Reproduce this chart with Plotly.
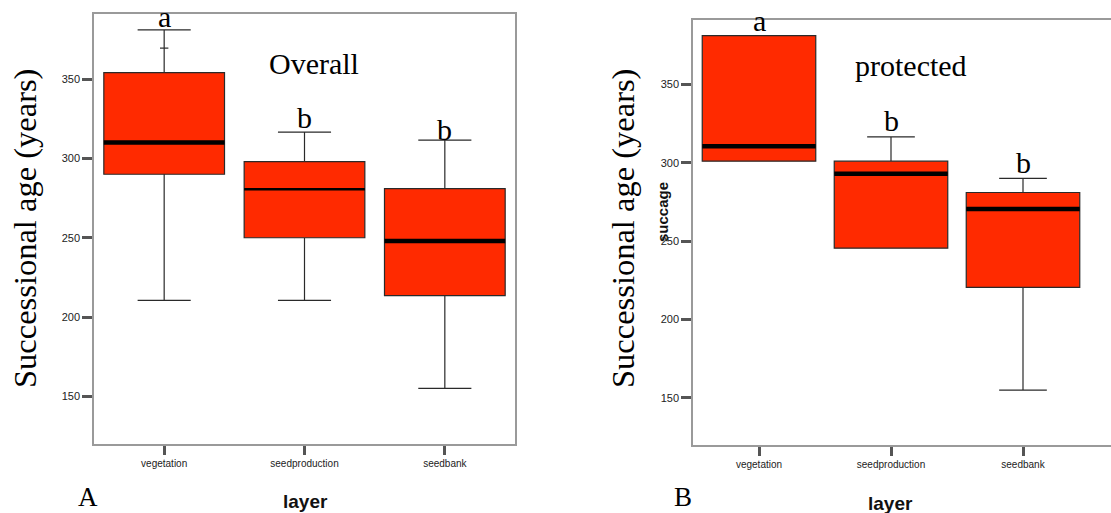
import plotly.graph_objects as go

# ---------------- data ----------------
categories = ["vegetation", "seedproduction", "seedbank"]

# Panel A: Overall
overall_q1 = [290, 250, 213.5]
overall_median = [310, 280.5, 248]
overall_q3 = [354, 298, 281]
overall_lower = [210.5, 210.5, 155]
overall_upper = [381, 316.5, 311.5]
overall_outlier_x = [0]
overall_outlier_y = [369.5]
overall_letters = ["a", "b", "b"]

# Panel B: protected
protected_q1 = [301, 245.5, 220.5]
protected_median = [310.5, 293, 270.5]
protected_q3 = [381, 301, 281]
protected_lower = [301, 245.5, 155]
protected_upper = [381, 316.5, 290]
protected_letters = ["a", "b", "b"]

y_ticks = [150, 200, 250, 300, 350]

# ---------------- style ----------------
FILL = "#FF2A00"
OUT = "#2a2a2a"
FRAME = "#9a9a9a"
TICKC = "#555555"
SERIF = "Liberation Serif, Times New Roman, serif"
SANS = "Liberation Sans, Arial, sans-serif"
BOXW = 0.86

W, H = 1111, 513


def px_x(p):
    return p / W


def px_y(p):
    return 1 - p / H


fig = go.Figure()

xpos = list(range(len(categories)))


def add_panel(xa, ya, q1, med, q3, lo, hi, whisk, med_widths):
    for i in xpos:
        fig.add_trace(go.Box(
            x=[i], q1=[q1[i]], median=[med[i]], q3=[q3[i]],
            lowerfence=[lo[i]], upperfence=[hi[i]],
            width=BOXW, whiskerwidth=whisk,
            fillcolor=FILL, line=dict(color=OUT, width=1.2),
            boxpoints=False, showlegend=False, hoverinfo="skip",
            xaxis=xa, yaxis=ya,
        ))
    for i in xpos:
        fig.add_trace(go.Scatter(
            x=[i - BOXW / 2, i + BOXW / 2], y=[med[i], med[i]],
            mode="lines", line=dict(color="black", width=med_widths[i]),
            showlegend=False, hoverinfo="skip", xaxis=xa, yaxis=ya,
        ))


add_panel("x", "y", overall_q1, overall_median, overall_q3,
          overall_lower, overall_upper, 0.44, [4.5, 2.5, 4.5])
fig.add_trace(go.Scatter(
    x=overall_outlier_x, y=overall_outlier_y, mode="markers",
    marker=dict(symbol="line-ew-open", size=6, color=OUT, line=dict(width=1.2, color=OUT)),
    showlegend=False, hoverinfo="skip", xaxis="x", yaxis="y",
))
add_panel("x2", "y2", protected_q1, protected_median, protected_q3,
          protected_lower, protected_upper, 0.42, [4.5, 4.5, 4.5])

common_x = dict(
    tickmode="array", tickvals=xpos, ticktext=categories,
    showline=True, mirror=True, linecolor=FRAME, linewidth=1.5,
    ticks="outside", ticklen=9, tickwidth=3, tickcolor=TICKC,
    showgrid=False, zeroline=False,
    tickfont=dict(family=SANS, size=10, color="#222"),
)
common_y = dict(
    range=[120, 391], tickmode="array", tickvals=y_ticks,
    showline=True, linecolor=FRAME, linewidth=1.5,
    ticks="outside", ticklen=10, tickwidth=3, tickcolor=TICKC,
    showgrid=False, zeroline=False,
    tickfont=dict(family=SANS, size=11, color="#222"),
)

fig.update_layout(
    width=W, height=H,
    margin=dict(l=0, r=0, t=0, b=0),
    paper_bgcolor="white", plot_bgcolor="white",
    xaxis=dict(domain=[px_x(94), px_x(515)], range=[-0.5, 2.5], anchor="y", **common_x),
    yaxis=dict(domain=[px_y(444), px_y(14)], anchor="x", mirror=True, **common_y),
    xaxis2=dict(domain=[px_x(693), 1.0], range=[-0.5, 2 + (1111 - 1023) / 132], anchor="y2", **common_x),
    yaxis2=dict(domain=[px_y(445), px_y(20)], anchor="x2", mirror=False, **common_y),
)

ann = []
# group letters (data coordinates)
letters_y_A = [389.5, 325.5, 318.5]
letters_y_B = [391, 327, 300]
for i in xpos:
    ann.append(dict(x=i, y=letters_y_A[i], xref="x", yref="y", text=overall_letters[i],
                    showarrow=False, font=dict(family=SERIF, size=30, color="black"),
                    xanchor="center", yanchor="middle"))
    ann.append(dict(x=i, y=letters_y_B[i], xref="x2", yref="y2", text=protected_letters[i],
                    showarrow=False, font=dict(family=SERIF, size=30, color="black"),
                    xanchor="center", yanchor="middle"))


def pa(x, y, text, font, angle=0):
    return dict(x=px_x(x), y=px_y(y), xref="paper", yref="paper", text=text,
                textangle=angle, showarrow=False, font=font,
                xanchor="center", yanchor="middle")


ann += [
    dict(x=1.07, y=360, xref="x", yref="y", text="Overall", showarrow=False,
         xanchor="center", yanchor="middle",
         font=dict(family=SERIF, size=30, color="black")),
    dict(x=1.15, y=362, xref="x2", yref="y2", text="protected", showarrow=False,
         xanchor="center", yanchor="middle",
         font=dict(family=SERIF, size=30, color="black")),
    pa(662, 212, "<b>succage</b>", dict(family=SANS, size=15, color="#111"), -90),
    pa(25, 229, "Successional age (years)", dict(family=SERIF, size=32.5, color="black"), -90),
    pa(623, 229, "Successional age (years)", dict(family=SERIF, size=32.5, color="black"), -90),
    pa(305, 501, "<b>layer</b>", dict(family=SANS, size=19, color="#111")),
    pa(890, 503, "<b>layer</b>", dict(family=SANS, size=19, color="#111")),
    pa(88, 497, "A", dict(family=SERIF, size=27, color="black")),
    pa(683, 497, "B", dict(family=SERIF, size=27, color="black")),
]
fig.update_layout(annotations=ann)

fig.write_html("out.html", config={"displayModeBar": False},
               post_script="document.body.style.margin='0px';")
